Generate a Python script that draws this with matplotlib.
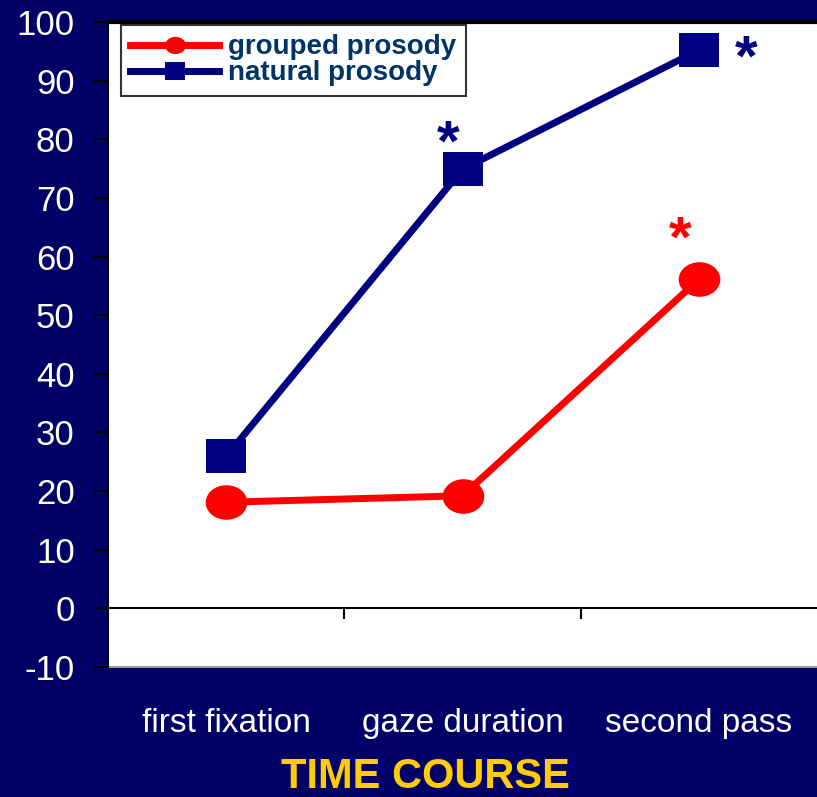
import matplotlib
matplotlib.use("Agg")
import matplotlib.pyplot as plt
import matplotlib.transforms as mtransforms
from matplotlib.path import Path

plt.rcParams['font.family'] = ['Liberation Sans', 'DejaVu Sans']
plt.rcParams['axes.unicode_minus'] = False

# data
categories = ['first fixation', 'gaze duration', 'second pass']
grouped = [18.1, 19.2, 56.1]
natural = [25.9, 74.9, 95.2]
y_ticks = list(range(-10, 101, 10))

# significance stars: (x, y, colour)
stars = [(0.94, 79.0, '#000080'), (2.2, 93.5, '#000080'), (1.92, 62.5, '#ff0000')]

# slightly flattened marker shapes, like the original
ellipse = Path.unit_circle().transformed(mtransforms.Affine2D().scale(1, 0.83))
rect = Path([(-1, -0.85), (1, -0.85), (1, 0.85), (-1, 0.85), (-1, -0.85)],
            [Path.MOVETO, Path.LINETO, Path.LINETO, Path.LINETO, Path.CLOSEPOLY])

bg = '#000066'
fig = plt.figure(figsize=(8.17, 7.97), dpi=100, facecolor=bg)
ax = fig.add_axes([108 / 817, 1 - 667 / 797, 1 - 108 / 817, (667 - 22) / 797])
ax.set_facecolor('white')

x = range(len(categories))
ax.plot(x, grouped, color='#ff0000', lw=5, marker=ellipse, ms=30,
        markeredgewidth=0, label='grouped prosody', zorder=3)
ax.plot(x, natural, color='#000080', lw=5, marker=rect, ms=29,
        markeredgewidth=0, label='natural prosody', zorder=3)

for sx, sy, c in stars:
    ax.text(sx, sy, '*', color=c, fontsize=42, fontweight='bold',
            ha='center', va='center')

ax.set_xlim(-0.5, 2.5)
ax.set_ylim(-10, 100)
ax.set_yticks(y_ticks)
ax.tick_params(axis='y', colors='black', labelcolor='#fffff0', labelsize=25,
               length=10, width=1.5, direction='out', pad=14)

# x axis line sits at zero, category boundaries as ticks
ax.spines['bottom'].set_position(('data', 0))
ax.spines['bottom'].set_linewidth(1.5)
ax.set_xticks([0.5, 1.5])
ax.set_xticklabels([])
ax.tick_params(axis='x', length=8, width=1.5, direction='out')
ax.axhline(-10, color='#999999', lw=1.5, clip_on=False, zorder=1)
ax.spines['top'].set_linewidth(3)
ax.spines['left'].set_linewidth(1.5)
ax.spines['right'].set_visible(False)

trans = mtransforms.blended_transform_factory(ax.transData, ax.transAxes)
for i, name in enumerate(categories):
    ax.text(i, -0.088, name, transform=trans, color='white', fontsize=24,
            ha='center', va='center')

fig.text(425 / 817, 1 - 777 / 797, 'TIME COURSE', color='#ffcc00',
         fontsize=30, fontweight='bold', ha='center', va='center')

leg = ax.legend(loc='upper left', bbox_to_anchor=(0.018, 0.996), frameon=True,
                fancybox=False, edgecolor='black', markerscale=0.5,
                handlelength=3.2, handletextpad=0.3, labelspacing=0.0,
                borderpad=0.35, borderaxespad=0,
                prop={'weight': 'bold', 'size': 20})
leg.get_frame().set_linewidth(1.5)
for t in leg.get_texts():
    t.set_color('#003366')

fig.savefig('out.png', dpi=100, facecolor=bg)
